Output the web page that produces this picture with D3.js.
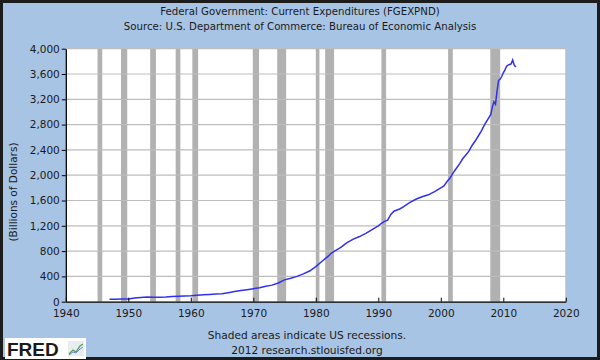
<!DOCTYPE html>
<html>
<head>
<meta charset="utf-8">
<script src="https://cdn.jsdelivr.net/npm/d3@7"></script>
<style>
  body { margin: 0; background: #fff; }
  svg { display: block; }
  text { font-family: "DejaVu Sans", Verdana, sans-serif; fill: #1a1a1a; }
</style>
</head>
<body>
<script>
var width = 600,
    height = 360,
    margin = {top: 48.7, right: 34.2, bottom: 58.3, left: 65.8};

// quarterly-ish readings of the series, billions of dollars
var years = [1947, 1948, 1949, 1950, 1951, 1952, 1953, 1954, 1955, 1956, 1957, 1958, 1959,
    1960, 1961, 1962, 1963, 1964, 1965, 1966, 1967, 1968, 1969, 1970, 1971, 1972, 1973,
    1974, 1975, 1976, 1977, 1978, 1979, 1980, 1981, 1982, 1982.5, 1983, 1984, 1985, 1986,
    1987, 1988, 1989, 1990, 1990.5, 1991, 1991.5, 1992, 1992.5, 1993, 1993.5, 1994, 1995,
    1996, 1997, 1998, 1999, 2000, 2000.5, 2001, 2001.5, 2002, 2002.5, 2003, 2003.5, 2004,
    2004.5, 2005, 2005.5, 2006, 2006.5, 2007, 2007.5, 2008, 2008.25, 2008.5, 2008.75,
    2009, 2009.25, 2009.5, 2009.75, 2010, 2010.25, 2010.5, 2010.75, 2011, 2011.25,
    2011.5, 2011.75, 2012];
var values = [38, 40, 44, 44, 58, 68, 74, 70, 71, 75, 82, 88, 92,
    95, 103, 110, 114, 120, 125, 142, 160, 176, 190, 205, 222, 245, 262,
    295, 345, 370, 400, 440, 485, 555, 640, 720, 770, 800, 860, 935, 990,
    1030, 1080, 1140, 1200, 1240, 1270, 1290, 1380, 1430, 1450, 1470, 1500, 1565,
    1620, 1660, 1690, 1740, 1800, 1830, 1900, 1960, 2040, 2110, 2180, 2260, 2320,
    2380, 2470, 2540, 2620, 2700, 2800, 2880, 2960, 3080, 3160, 3120,
    3330, 3500, 3520, 3560, 3620, 3660, 3720, 3740, 3750, 3760,
    3820, 3740, 3710];

// US recessions (peak month to trough month)
var recStart = [1945.08, 1948.83, 1953.5, 1957.58, 1960.25, 1969.92, 1973.83, 1980.0, 1981.5, 1990.5, 2001.17, 2007.92];
var recEnd   = [1945.83, 1949.83, 1954.42, 1958.33, 1961.17, 1970.92, 1975.25, 1980.58, 1982.92, 1991.25, 2001.92, 2009.5];

var xTicks = [1940, 1950, 1960, 1970, 1980, 1990, 2000, 2010, 2020];
var yTicks = [0, 400, 800, 1200, 1600, 2000, 2400, 2800, 3200, 3600, 4000];

var titleLines = ['Federal Government: Current Expenditures (FGEXPND)',
    'Source: U.S. Department of Commerce: Bureau of Economic Analysis'];
var noteLines = ['Shaded areas indicate US recessions.', '2012 research.stlouisfed.org'];

var svg = d3.select('body')
    .append('svg')
    .attr('width', width)
    .attr('height', height);

// background + dark frame
svg.append('rect')
    .attr('x', 1.5).attr('y', 1.5)
    .attr('width', width - 3).attr('height', height - 3)
    .attr('fill', '#a8c4e4')
    .attr('stroke', '#1c1c1c')
    .attr('stroke-width', 3);

var x = d3.scaleLinear().domain([1940, 2020]).range([margin.left, width - margin.right]);
var y = d3.scaleLinear().domain([0, 4000]).range([height - margin.bottom, margin.top]);

// plot area
svg.append('rect')
    .attr('x', x(1940)).attr('y', y(4000))
    .attr('width', x(2020) - x(1940)).attr('height', y(0) - y(4000))
    .attr('fill', '#fff');

// recession bars
svg.selectAll('rect.rec')
    .data(recStart)
    .enter()
    .append('rect')
    .attr('class', 'rec')
    .attr('x', (d) => x(d))
    .attr('width', (d, i) => x(recEnd[i]) - x(d))
    .attr('y', y(4000))
    .attr('height', y(0) - y(4000))
    .attr('fill', '#b1b1b1');

// horizontal grid
svg.selectAll('line.grid')
    .data(yTicks.slice(1))
    .enter()
    .append('line')
    .attr('class', 'grid')
    .attr('x1', x(1940)).attr('x2', x(2020))
    .attr('y1', (d) => y(d)).attr('y2', (d) => y(d))
    .attr('stroke', '#bdbdbd')
    .attr('stroke-width', 1.2);

// right border
svg.append('line')
    .attr('x1', x(2020)).attr('x2', x(2020))
    .attr('y1', y(4000)).attr('y2', y(0))
    .attr('stroke', '#bdbdbd');

// the series
var line = d3.line()
    .x((d, i) => x(years[i]))
    .y((d) => y(d));

svg.append('path')
    .datum(values)
    .attr('d', line)
    .attr('fill', 'none')
    .attr('stroke', '#3030f0')
    .attr('stroke-width', 1.5);

// axes
var yAxis = d3.axisLeft(y)
    .tickValues(yTicks)
    .tickFormat(d3.format(','))
    .tickSize(4)
    .tickSizeOuter(0)
    .tickPadding(2);

var gy = svg.append('g')
    .attr('transform', 'translate(' + x(1940) + ',0)')
    .call(yAxis);

var xAxis = d3.axisBottom(x)
    .tickValues(xTicks)
    .tickFormat(d3.format('d'))
    .tickSize(-4)
    .tickSizeOuter(0)
    .tickPadding(8);

var gx = svg.append('g')
    .attr('transform', 'translate(0,' + y(0) + ')')
    .call(xAxis);

[gx, gy].forEach(function(g) {
    g.selectAll('.domain').attr('stroke', '#000').attr('stroke-width', 1.3);
    g.selectAll('.tick line').attr('stroke', '#000');
    g.selectAll('.tick text')
        .attr('fill', '#111')
        .style('font-family', '"DejaVu Sans", Verdana, sans-serif')
        .style('font-size', '10.5px');
});

// y label
svg.append('text')
    .attr('transform', 'translate(17,192) rotate(-90)')
    .attr('text-anchor', 'middle')
    .style('font-size', '10.5px')
    .text('(Billions of Dollars)');

// titles
svg.selectAll('text.title')
    .data(titleLines)
    .enter()
    .append('text')
    .attr('class', 'title')
    .attr('x', 300)
    .attr('y', (d, i) => 15 + i * 14.5)
    .attr('text-anchor', 'middle')
    .style('font-size', '10.2px')
    .text((d) => d);

// notes at the bottom
svg.selectAll('text.note')
    .data(noteLines)
    .enter()
    .append('text')
    .attr('class', 'note')
    .attr('x', 307)
    .attr('y', (d, i) => 339 + i * 15)
    .attr('text-anchor', 'middle')
    .style('font-size', '10.6px')
    .text((d) => d);

// FRED logo
var logo = svg.append('g').attr('transform', 'translate(5,338)');
logo.append('rect')
    .attr('width', 81).attr('height', 21)
    .attr('fill', '#fff');
logo.append('text')
    .attr('x', 2).attr('y', 18)
    .style('font-family', '"Liberation Sans", Arial, sans-serif')
    .style('font-size', '19px')
    .style('font-weight', 'bold')
    .attr('fill', '#111')
    .text('FRED');
logo.append('rect')
    .attr('x', 63).attr('y', 3).attr('width', 16).attr('height', 15)
    .attr('fill', '#e8eef0');
logo.append('path')
    .attr('d', 'M64,16 L68,12 L71,14 L75,8 L78,6')
    .attr('fill', 'none')
    .attr('stroke', '#5a9a5a')
    .attr('stroke-width', 1.3);
logo.append('path')
    .attr('d', 'M64,17 L68,14 L71,15 L75,11 L78,9')
    .attr('fill', 'none')
    .attr('stroke', '#6c8fc0')
    .attr('stroke-width', 1);
</script>
</body>
</html>
